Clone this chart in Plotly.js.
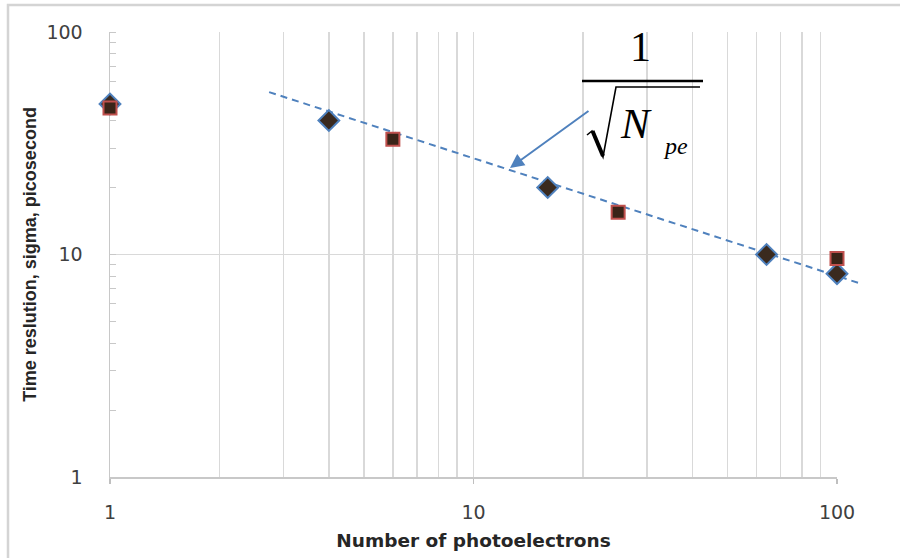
<!DOCTYPE html>
<html>
<head>
<meta charset="utf-8">
<script src="https://cdn.plot.ly/plotly-3.0.1.min.js"></script>
<style>html,body{margin:0;padding:0;background:#fff;}#chart{width:900px;height:558px;}</style>
</head>
<body>
<div id="chart"></div>
<script>
// ---- data ----
const diamondX = [1, 4, 16, 64, 100];
const diamondY = [47.5, 40, 20, 10, 8.2];
const squareX = [1, 6, 25, 100];
const squareY = [45.5, 33, 15.5, 9.6];
const guideX = [2.74, 117];
const guideY = [53.7, 7.37];
const arrowTarget = [12.6, 24.5];
const xTickVals = [1, 10, 100];
const yTickVals = [1, 10, 100];
const xTitle = 'Number of photoelectrons';
const yTitle = 'Time reslution, sigma, picosecond';

// ---- layout geometry ----
const W = 900, H = 558;
const mL = 110, mR = 30, mT = 32, mB = 81;
const plotW = W - mL - mR;
const plotH = H - mT - mB;
const mainRight = 837;
const mainFrac = (mainRight - mL) / plotW;
const px = v => (v - mL) / plotW;
const py = v => (H - mB - v) / plotH;

const blue = '#4f81bd';
const grid = '#d9d9d9';
const serif = 'Liberation Serif, Times New Roman, serif';

const traces = [
  {x: [], y: [], xaxis: 'x', yaxis: 'y', type: 'scatter', mode: 'markers', showlegend: false, hoverinfo: 'skip'},
  {x: guideX, y: guideY, xaxis: 'x2', yaxis: 'y2', type: 'scatter', mode: 'lines',
   line: {color: blue, width: 2, dash: '7px,5px'}, showlegend: false},
  {x: diamondX, y: diamondY, xaxis: 'x2', yaxis: 'y2', type: 'scatter', mode: 'markers', cliponaxis: false,
   marker: {symbol: 'diamond', size: 16, color: '#3a2a1f', line: {color: blue, width: 2}}, showlegend: false},
  {x: squareX, y: squareY, xaxis: 'x2', yaxis: 'y2', type: 'scatter', mode: 'markers', cliponaxis: false,
   marker: {symbol: 'square', size: 13, color: '#3a2418', line: {color: '#c0504d', width: 2}}, showlegend: false}
];

const tickFont = {family: 'DejaVu Sans, sans-serif', size: 19, color: '#404040'};

const layout = {
  width: W, height: H,
  margin: {l: mL, r: mR, t: mT, b: mB, pad: 0},
  paper_bgcolor: '#fff', plot_bgcolor: 'rgba(0,0,0,0)',
  showlegend: false,
  xaxis: {
    type: 'log', range: [0, 2], domain: [0, mainFrac], anchor: 'y',
    tickvals: xTickVals, ticktext: xTickVals.map(String),
    ticks: 'outside', ticklen: 5, tickcolor: '#bfbfbf', tickwidth: 1.5,
    showgrid: true, gridcolor: grid, gridwidth: 1.5,
    minor: {dtick: 'D1', showgrid: true, gridcolor: grid, gridwidth: 1.5, ticks: ''},
    showline: true, linecolor: '#c8c8c8', linewidth: 1.5, mirror: false,
    zeroline: false, tickfont: tickFont, ticklabelstandoff: 13,
    title: {text: xTitle, font: {family: 'DejaVu Sans, sans-serif', size: 18.5, color: '#262626', weight: 'bold'}, standoff: 12}
  },
  yaxis: {
    type: 'log', range: [0, 2], domain: [0, 1], anchor: 'x',
    tickvals: yTickVals, ticktext: yTickVals.map(String),
    ticks: '', showgrid: true, gridcolor: grid, gridwidth: 1.5,
    minor: {dtick: 'D1', ticks: 'inside', ticklen: 6, tickcolor: '#c8c8c8', tickwidth: 1, showgrid: false},
    showline: true, linecolor: '#c8c8c8', linewidth: 1.5,
    zeroline: false, tickfont: tickFont, ticklabelstandoff: 22,
    title: {text: yTitle, font: {family: 'Liberation Sans, Arial, sans-serif', size: 18, color: '#262626', weight: 'bold'}, standoff: 5}
  },
  xaxis2: {type: 'log', range: [0, 2 / mainFrac], domain: [0, 1], anchor: 'y2', visible: false, showgrid: false},
  yaxis2: {type: 'log', range: [0, 2], domain: [0, 1], anchor: 'x2', visible: false, showgrid: false},
  shapes: [
    {type: 'rect', xref: 'paper', yref: 'paper', x0: px(8), x1: px(910), y0: py(568), y1: py(5),
     line: {color: '#d4d4d4', width: 2.5}, fillcolor: 'rgba(0,0,0,0)', layer: 'below'},
    {type: 'line', xref: 'paper', yref: 'paper', x0: px(582), x1: px(703), y0: py(81), y1: py(81),
     line: {color: '#000', width: 2.5}},
    {type: 'path', xref: 'paper', yref: 'paper',
     path: `M ${px(587)},${py(135)} L ${px(592)},${py(131)} L ${px(603)},${py(157)} L ${px(616)},${py(87)} L ${px(700)},${py(87)}`,
     line: {color: '#000', width: 1.6}},
    {type: 'line', xref: 'paper', yref: 'paper', x0: px(592.5), x1: px(603), y0: py(131), y1: py(156),
     line: {color: '#000', width: 4}}
  ],
  annotations: [
    {xref: 'paper', yref: 'paper', x: px(640), y: py(47), text: '1', showarrow: false,
     xanchor: 'center', yanchor: 'middle', font: {family: serif, size: 42, color: '#000'}},
    {xref: 'paper', yref: 'paper', x: px(636), y: py(123), text: '<i>N</i>', showarrow: false,
     xanchor: 'center', yanchor: 'middle', font: {family: serif, size: 43, color: '#000'}},
    {xref: 'paper', yref: 'paper', x: px(675), y: py(146), text: '<i>pe</i>', showarrow: false,
     xanchor: 'center', yanchor: 'middle', font: {family: serif, size: 24, color: '#000'}},
    {xref: 'x', yref: 'y', x: Math.log10(arrowTarget[0]), y: Math.log10(arrowTarget[1]), text: '',
     showarrow: true, ax: 80, ay: -58, arrowhead: 2, arrowsize: 1.4, arrowwidth: 2, arrowcolor: blue, standoff: 0}
  ]
};

Plotly.newPlot('chart', traces, layout, {staticPlot: true, displayModeBar: false});
</script>
</body>
</html>
